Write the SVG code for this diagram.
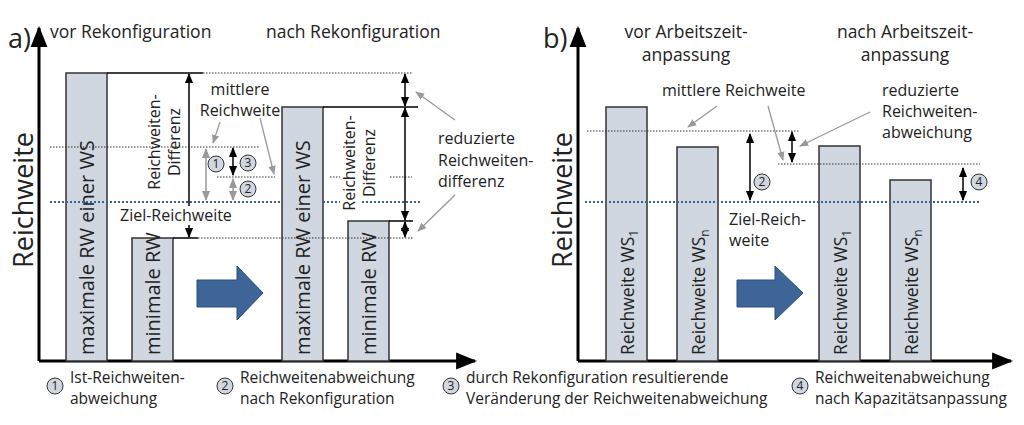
<svg xmlns="http://www.w3.org/2000/svg" width="1024" height="425" viewBox="0 0 1024 425">
<defs>
<marker id="ah" viewBox="0 0 10 10" refX="9" refY="5" markerWidth="7" markerHeight="7" orient="auto-start-reverse"><path d="M0,1L10,5L0,9z" fill="#000"/></marker>
<marker id="ag" viewBox="0 0 10 10" refX="9" refY="5" markerWidth="7" markerHeight="7" orient="auto-start-reverse"><path d="M0,1L10,5L0,9z" fill="#999"/></marker>
</defs>
<style>
text{font-family:"Open Sans","Liberation Sans",sans-serif;font-size:16px;fill:#222}
.bar{fill:#d0d7e0;stroke:#333;stroke-width:1.5}
.ax{stroke:#000;stroke-width:3;fill:none;marker-end:url(#ah)}
.sol{stroke:#000;stroke-width:1.5}
.dot{stroke:#333;stroke-width:1;stroke-dasharray:1.5 1.5}
.ziel{stroke:#3a6190;stroke-width:2;stroke-dasharray:2 2}
.da{stroke:#000;stroke-width:1.5;marker-start:url(#ah);marker-end:url(#ah)}
.ga{stroke:#999;stroke-width:1.5;marker-start:url(#ag);marker-end:url(#ag)}
.gp{stroke:#999;stroke-width:1.3;marker-end:url(#ag)}
.c{fill:#d0d7e0;stroke:#333;stroke-width:1}
.ct{font-size:12px;text-anchor:middle}
.big{font-size:27px}
.bt{font-size:17.5px}
.bar-t{font-size:20px}
.lg{font-size:15.5px}
.mid{text-anchor:middle}
.blue{fill:#3d6598;stroke:#2b4f7d;stroke-width:1}
</style>
<g id="axes">
<path class="ax" d="M39,361V28"/><path class="ax" d="M39,361H475"/>
<path class="ax" d="M578,361V28"/><path class="ax" d="M578,361H1011"/>
<text x="8" y="48" class="big">a)</text>
<text x="543" y="48" class="big">b)</text>
<text transform="translate(33,200) rotate(-90)" class="big mid">Reichweite</text>
<text transform="translate(572,200) rotate(-90)" class="big mid">Reichweite</text>
</g>
<g id="titles">
<text x="50" y="38" class="bt">vor Rekonfiguration</text>
<text x="266" y="38" class="bt">nach Rekonfiguration</text>
<text x="686" y="38" class="bt mid">vor Arbeitszeit-</text>
<text x="686" y="61" class="bt mid">anpassung</text>
<text x="905" y="38" class="bt mid">nach Arbeitszeit-</text>
<text x="905" y="61" class="bt mid">anpassung</text>
</g>
<g id="bars-a">
<rect class="bar" x="66" y="73" width="41" height="288"/>
<rect class="bar" x="132" y="238" width="41" height="123"/>
<rect class="bar" x="282" y="107" width="41" height="254"/>
<rect class="bar" x="348" y="221" width="41" height="140"/>
<text transform="translate(94,355) rotate(-90)" class="bar-t">maximale RW einer WS</text>
<text transform="translate(160,355) rotate(-90)" class="bar-t">minimale RW</text>
<text transform="translate(310,355) rotate(-90)" class="bar-t">maximale RW einer WS</text>
<text transform="translate(376,355) rotate(-90)" class="bar-t">minimale RW</text>
</g>
<g id="bars-b">
<rect class="bar" x="606" y="107" width="41" height="254"/>
<rect class="bar" x="677" y="147" width="41" height="214"/>
<rect class="bar" x="819" y="146" width="41" height="215"/>
<rect class="bar" x="890" y="180" width="41" height="181"/>
<text transform="translate(634,355) rotate(-90)" class="bt">Reichweite WS<tspan font-size="12" dy="4">1</tspan></text>
<text transform="translate(705,355) rotate(-90)" class="bt">Reichweite WS<tspan font-size="12" dy="4">n</tspan></text>
<text transform="translate(847,355) rotate(-90)" class="bt">Reichweite WS<tspan font-size="12" dy="4">1</tspan></text>
<text transform="translate(918,355) rotate(-90)" class="bt">Reichweite WS<tspan font-size="12" dy="4">n</tspan></text>
</g>
<g id="connectors">
<line class="sol" x1="107" y1="73" x2="203" y2="73"/><line class="dot" x1="203" y1="73" x2="413" y2="73"/>
<line class="sol" x1="173" y1="238" x2="198" y2="238"/><line class="dot" x1="198" y1="238" x2="413" y2="238"/>
<line class="sol" x1="323" y1="107" x2="418" y2="107"/>
<line class="sol" x1="389" y1="221" x2="413" y2="221"/>
<line class="dot" x1="50" y1="147" x2="260" y2="147"/>
<line class="dot" x1="217" y1="177" x2="275" y2="177"/><line class="dot" x1="330" y1="177" x2="340" y2="177"/><line class="dot" x1="390" y1="177" x2="412" y2="177"/>
<line class="ziel" x1="50" y1="202" x2="282" y2="202"/><line class="ziel" x1="323" y1="202" x2="340" y2="202"/><line class="ziel" x1="362" y1="202" x2="422" y2="202"/>
<line class="da" x1="189" y1="74" x2="189" y2="237"/>
<line class="ga" x1="206" y1="149" x2="206" y2="200"/>
<line class="da" x1="233" y1="148" x2="233" y2="175"/>
<line class="ga" x1="233" y1="179" x2="233" y2="200"/>
<line class="da" x1="405" y1="74" x2="405" y2="106"/>
<line class="da" x1="405" y1="108" x2="405" y2="220"/>
<line class="da" x1="405" y1="222" x2="405" y2="237"/>
<line class="gp" x1="220" y1="122" x2="213" y2="143"/>
<line class="gp" x1="260" y1="118" x2="274" y2="174"/>
<line class="gp" x1="455" y1="120" x2="416" y2="92"/>
<line class="gp" x1="455" y1="195" x2="418" y2="231"/>
<line class="dot" x1="587" y1="131" x2="800" y2="131"/>
<line class="dot" x1="778" y1="164" x2="980" y2="164"/>
<line class="ziel" x1="585" y1="202" x2="980" y2="202"/>
<line class="da" x1="750" y1="134" x2="750" y2="200"/>
<line class="da" x1="792" y1="132" x2="792" y2="162"/>
<line class="da" x1="963" y1="168" x2="963" y2="200"/>
<line class="gp" x1="717" y1="106" x2="688" y2="127"/>
<line class="gp" x1="768" y1="106" x2="783" y2="160"/>
<line class="gp" x1="870" y1="112" x2="800" y2="146"/>
</g>
<g id="labels">
<rect x="118" y="206" width="112" height="19" fill="#fff"/>
<text x="120" y="221">Ziel-Reichweite</text>
<text transform="translate(160,142) rotate(-90)" class="mid">Reichweiten-</text>
<text transform="translate(180,142) rotate(-90)" class="mid">Differenz</text>
<text transform="translate(355,163) rotate(-90)" class="mid">Reichweiten-</text>
<text transform="translate(375,163) rotate(-90)" class="mid">Differenz</text>
<text x="240" y="95" class="mid">mittlere</text>
<text x="240" y="116" class="mid">Reichweite</text>
<text x="438" y="144">reduzierte</text>
<text x="438" y="166">Reichweiten-</text>
<text x="438" y="187">differenz</text>
<text x="662" y="96">mittlere Reichweite</text>
<text x="882" y="96">reduzierte</text>
<text x="882" y="117">Reichweiten-</text>
<text x="882" y="138">abweichung</text>
<text x="729" y="225">Ziel-Reich-</text>
<text x="729" y="246">weite</text>
</g>
<g id="markers">
<circle class="c" cx="216" cy="164" r="8"/><text x="216" y="168" class="ct">1</text>
<circle class="c" cx="248" cy="163" r="8"/><text x="248" y="167" class="ct">3</text>
<circle class="c" cx="248" cy="189" r="8"/><text x="248" y="193" class="ct">2</text>
<circle class="c" cx="762" cy="182" r="8"/><text x="762" y="186" class="ct">2</text>
<circle class="c" cx="979" cy="182" r="8"/><text x="979" y="186" class="ct">4</text>
</g>
<g id="arrows">
<path class="blue" d="M197,280H237V266L263,293L237,320V307H197z"/>
<path class="blue" d="M737,280H775V266L803,293L775,320V307H737z"/>
</g>
<g id="legend">
<circle class="c" cx="55" cy="386" r="8"/><text x="55" y="390" class="ct">1</text>
<text x="70" y="383" class="lg">Ist-Reichweiten-</text><text x="70" y="404" class="lg">abweichung</text>
<circle class="c" cx="225" cy="386" r="8"/><text x="225" y="390" class="ct">2</text>
<text x="240" y="383" class="lg">Reichweitenabweichung</text><text x="240" y="404" class="lg">nach Rekonfiguration</text>
<circle class="c" cx="451" cy="386" r="8"/><text x="451" y="390" class="ct">3</text>
<text x="466" y="383" class="lg">durch Rekonfiguration resultierende</text><text x="466" y="404" class="lg">Veränderung der Reichweitenabweichung</text>
<circle class="c" cx="800" cy="386" r="8"/><text x="800" y="390" class="ct">4</text>
<text x="815" y="383" class="lg">Reichweitenabweichung</text><text x="815" y="404" class="lg">nach Kapazitätsanpassung</text>
</g>
</svg>
